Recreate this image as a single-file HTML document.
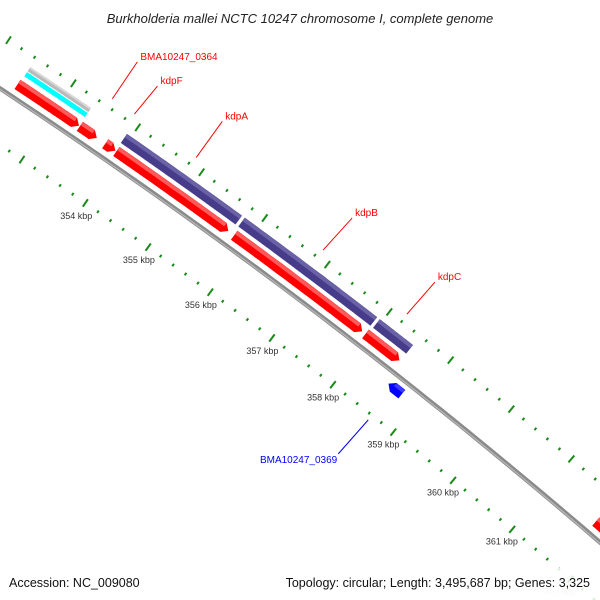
<!DOCTYPE html>
<html><head><meta charset="utf-8"><style>
html,body{margin:0;padding:0;background:#fff;}
svg{display:block;font-family:"Liberation Sans",sans-serif;}
</style></head><body>
<svg id="map" width="600" height="600" viewBox="0 0 600 600" xmlns="http://www.w3.org/2000/svg">
<rect width="600" height="600" fill="#fff"/>
<g id="ticks"></g>
<g id="backbone"></g>
<g id="features"></g>
<g id="labels"></g>
<text x="300" y="23" text-anchor="middle" font-size="13" font-style="italic" fill="#222">Burkholderia mallei NCTC 10247 chromosome I, complete genome</text>
<rect x="0" y="568" width="600" height="32" fill="#fff" opacity="0.85"/>
<text x="9" y="587" font-size="12.5" fill="#111">Accession: NC_009080</text>
<text x="590" y="587" text-anchor="end" font-size="12.5" fill="#111">Topology: circular; Length: 3,495,687 bp; Genes: 3,325</text>
</svg>
<script>
// data
const featStart = [352410, 353378, 353775, 353950, 355813, 357930, 361760];
const featEnd   = [353365, 353643, 353934, 355720, 357877, 358486, 362600];
const purpleStart = [353934, 355790, 357960];
const purpleEnd   = [355746, 357917, 358500];
const otherStart = [352425, 352425];
const otherEnd   = [353365, 353365];
const revStart = [358560];
const revEnd   = [358780];
const tickKbp = [352, 353, 354, 355, 356, 357, 358, 359, 360, 361, 362];
const labelNames = ["BMA10247_0364", "kdpF", "kdpA", "kdpB", "kdpC", "BMA10247_0369"];
const labelBp = [353524, 353868, 354834, 356845, 358195, 358645];

const NS = "http://www.w3.org/2000/svg";
const CX = -3234, CY = 4986, R = 5869;
function ang(bp){ return (34.76 + (bp - 354000) * 0.0007557) * Math.PI / 180; }
function pt(bp, r){ const a = ang(bp); return [CX + r*Math.sin(a), CY - r*Math.cos(a)]; }
function mk(tag, attrs, parent){ const e = document.createElementNS(NS, tag); for (const k in attrs) e.setAttribute(k, attrs[k]); parent.appendChild(e); return e; }

// backbone
const bb = document.getElementById('backbone');
function arcPath(b0, b1, r){ let d=''; for(let i=0;i<=60;i++){ const p=pt(b0+(b1-b0)*i/60, r); d += (i?'L':'M')+p[0].toFixed(1)+','+p[1].toFixed(1);} return d; }
const bl = mk('path', {d: arcPath(351500, 363500, R), stroke:'#8a8a8a', 'stroke-width':4.5, fill:'none'}, bb);


const bh = mk('path', {d: arcPath(351500, 363500, R-0.8), stroke:'#b8b8b8', 'stroke-width':1.2, fill:'none'}, bb);



// ticks
const tg = document.getElementById('ticks');
function tick(bp, r, len, name){
  const p0 = pt(bp, r - len/2), p1 = pt(bp, r + len/2);
  const l = mk('line', {x1:p0[0], y1:p0[1], x2:p1[0], y2:p1[1], stroke:'#1a8a1a', 'stroke-width':2}, tg);
  
  
}
for (let i = 0; i < tickKbp.length; i++){
  const k = tickKbp[i];
  for (let m = 0; m < 5; m++){
    const bp = k*1000 + m*200;
    const len = m === 0 ? 9 : 3;
    tick(bp, R - 47, len, m === 0 ? 'major-tick-inner' : 'minor-tick-inner');
    tick(bp, R + 45, len, m === 0 ? 'major-tick-outer' : 'minor-tick-outer');
  }
  if (k < 354) continue;
  const lp = pt(k*1000, R - 63);
  const t = mk('text', {x:lp[0], y:lp[1]+3, 'text-anchor':'middle', 'font-size':9, fill: k === 362 ? '#ccc' : '#333'}, tg);
  t.textContent = k + ' kbp';
  
  
}

// features
const fg = document.getElementById('features');
function feature(b0, b1, rc, w, dir, fill, light, name){
  const head = 6 / (R * 0.0007557 * Math.PI / 180);
  const r0 = rc - w/2, r1 = rc + w/2;
  const pts = [];
  let s = b0, e = b1;
  if (dir > 0){
    const hb = Math.max(s, e - head);
    for (let i=0;i<=30;i++) pts.push(pt(s + (hb-s)*i/30, r1));
    pts.push(pt(e, rc));
    for (let i=30;i>=0;i--) pts.push(pt(s + (hb-s)*i/30, r0));
  } else if (dir < 0){
    const hb = Math.min(e, s + head);
    pts.push(pt(s, rc));
    for (let i=0;i<=30;i++) pts.push(pt(hb + (e-hb)*i/30, r1));
    for (let i=30;i>=0;i--) pts.push(pt(hb + (e-hb)*i/30, r0));
  } else {
    for (let i=0;i<=30;i++) pts.push(pt(s + (e-s)*i/30, r1));
    for (let i=30;i>=0;i--) pts.push(pt(s + (e-s)*i/30, r0));
  }
  const p = mk('polygon', {points: pts.map(q=>q[0].toFixed(1)+','+q[1].toFixed(1)).join(' '), fill: fill}, fg);
  
  
  if (light){
    const hl = [];
    const hEnd = dir > 0 ? e - head : e;
    const hStart = dir < 0 ? s + head : s;
    for (let i=0;i<=30;i++) hl.push(pt(hStart + (hEnd-hStart)*i/30, r1 - w*0.2));
    const l = mk('polyline', {points: hl.map(q=>q[0].toFixed(1)+','+q[1].toFixed(1)).join(' '), stroke: light, 'stroke-width': w*0.35, fill:'none'}, fg);
    
    
  }
}
for (let i=0;i<featStart.length;i++) feature(featStart[i], featEnd[i], R+13, 11, 1, '#ff0000', '#ff5a5a', 'forward-gene');
for (let i=0;i<purpleStart.length;i++) feature(purpleStart[i], purpleEnd[i], R+28, 11, 0, '#463c8a', '#6a62a6', 'operon-block');
feature(otherStart[0], otherEnd[0], R+26, 5, 0, '#00ffff', null, 'cyan-block');
feature(otherStart[1], otherEnd[1], R+32, 5, 0, '#b9b9b9', '#d8d8d8', 'gray-block');
for (let i=0;i<revStart.length;i++) feature(revStart[i], revEnd[i], R-12, 11, -1, '#0000ff', '#3a3aff', 'reverse-gene');

// labels
const lg = document.getElementById('labels');
const labelOff = [[25,-37],[23,-28],[26,-36],[29,-32],[28,-32],[-30,34]];
for (let i=0;i<labelNames.length;i++){
  const rev = i === 5;
  const p0 = pt(labelBp[i], rev ? R - 53 : R + 54);
  const p1 = [p0[0] + labelOff[i][0], p0[1] + labelOff[i][1]];
  const col = rev ? '#0000ff' : '#ff0000';
  const l = mk('line', {x1:p0[0], y1:p0[1], x2:p1[0], y2:p1[1], stroke:col, 'stroke-width':1}, lg);
  
  
  const t = mk('text', {x: rev ? p1[0]-1 : p1[0]+3, y: rev ? p1[1]+9 : p1[1]-2, 'text-anchor': rev ? 'end' : 'start', 'font-size':10, fill:col}, lg);
  t.textContent = labelNames[i];
  
  
}
</script>
</body></html>
